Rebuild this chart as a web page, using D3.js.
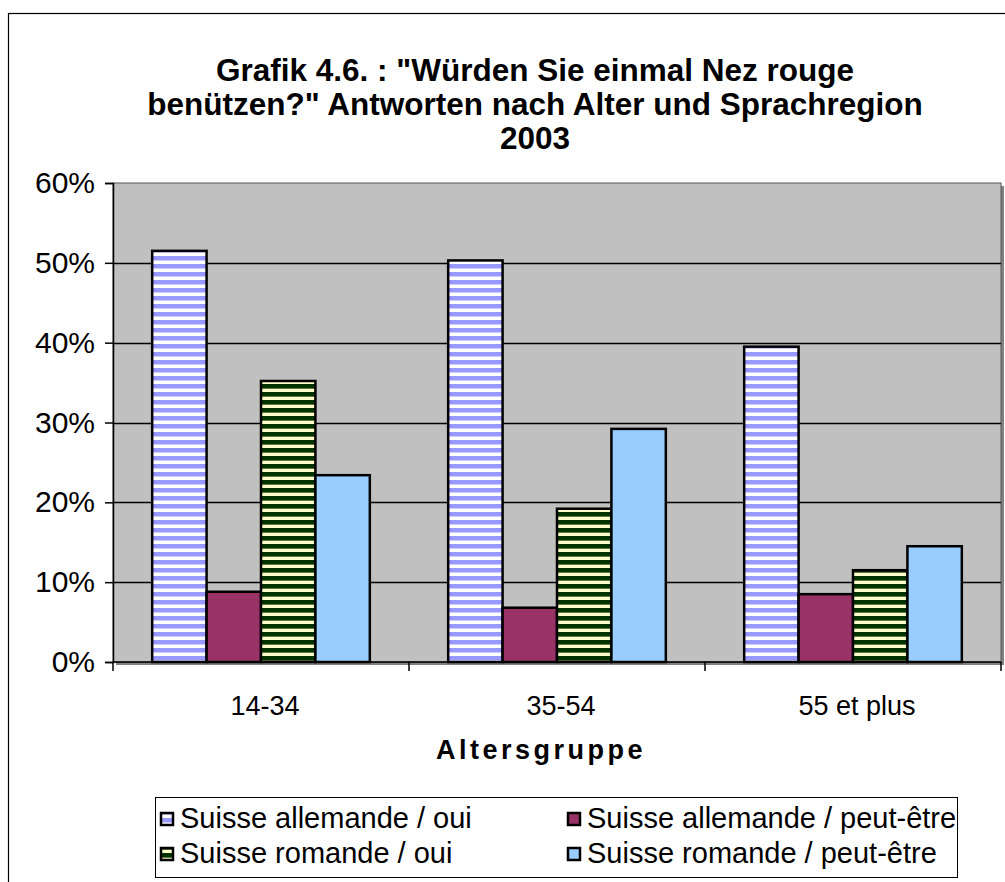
<!DOCTYPE html>
<html>
<head>
<meta charset="utf-8">
<script src="https://cdn.jsdelivr.net/npm/d3@7"></script>
<style>
  body { margin: 0; background: #fff; }
  svg { display: block; font-family: "Liberation Sans", Arial, sans-serif; }
</style>
</head>
<body>
<svg id="chart" width="1005" height="882"></svg>
<script>
var groupes = ["14-34", "35-54", "55 et plus"];
var series = ["Suisse allemande / oui", "Suisse allemande / peut-être", "Suisse romande / oui", "Suisse romande / peut-être"];
var allemandeOui = [51.5, 50.3, 39.5];
var allemandePeut = [8.8, 6.8, 8.5];
var romandeOui = [35.2, 19.2, 11.5];
var romandePeut = [23.4, 29.2, 14.5];
var yTicks = [0, 10, 20, 30, 40, 50, 60];
var titre = ["Grafik 4.6. : \"Würden Sie einmal Nez rouge", "benützen?\" Antworten nach Alter und Sprachregion", "2003"];

var valeurs = [allemandeOui, allemandePeut, romandeOui, romandePeut];
var remplis = ["url(#rayesBleu)", "#993366", "url(#rayesVert)", "#99ccff"];

var svg = d3.select("#chart");

// motifs a rayures
var defs = svg.append("defs");
var p1 = defs.append("pattern").attr("id", "rayesBleu")
    .attr("patternUnits", "userSpaceOnUse").attr("width", 8).attr("height", 8);
p1.append("rect").attr("width", 8).attr("height", 8).attr("fill", "#ffffff");
p1.append("rect").attr("y", 0).attr("width", 8).attr("height", 4).attr("fill", "#9999ff");
p1.append("rect").attr("y", 4).attr("width", 8).attr("height", 1).attr("fill", "#ccccff");
var p2 = defs.append("pattern").attr("id", "rayesVert")
    .attr("patternUnits", "userSpaceOnUse").attr("width", 8).attr("height", 8);
p2.append("rect").attr("width", 8).attr("height", 8).attr("fill", "#ffffcc");
p2.append("rect").attr("y", 0).attr("width", 8).attr("height", 4).attr("fill", "#003300");
p2.append("rect").attr("y", 4).attr("width", 8).attr("height", 1).attr("fill", "#667744");

// cadre exterieur
svg.append("rect")
    .attr("x", 8.5).attr("y", 13.5).attr("width", 1010).attr("height", 900)
    .attr("fill", "none").attr("stroke", "#000").attr("stroke-width", 1.2);

var gauche = 113, droite = 1001, haut = 183, bas = 662;

var x = d3.scaleBand().domain(groupes).range([gauche, droite]);
var xi = d3.scaleBand().domain(d3.range(4)).range([0, x.bandwidth()]).paddingOuter(0.72).paddingInner(0);
var y = d3.scaleLinear().domain([0, 60]).range([bas, haut]);

// zone de trace
svg.append("rect")
    .attr("x", gauche + 3).attr("y", haut + 3).attr("width", droite - gauche).attr("height", bas - haut)
    .attr("fill", "#808080");
svg.append("rect")
    .attr("x", gauche).attr("y", haut).attr("width", droite - gauche).attr("height", bas - haut)
    .attr("fill", "#c0c0c0").attr("stroke", "#555").attr("stroke-width", 1);

// quadrillage
svg.append("g")
    .selectAll("line")
    .data(yTicks.filter(function(d){ return d > 0 && d < 60; }))
    .enter().append("line")
    .attr("x1", gauche).attr("x2", droite)
    .attr("y1", function(d){ return Math.round(y(d)) + 0.5; })
    .attr("y2", function(d){ return Math.round(y(d)) + 0.5; })
    .attr("stroke", "#000").attr("stroke-width", 1.5);

// barres
valeurs.forEach(function(serie, s){
    svg.append("g")
        .selectAll("rect")
        .data(serie)
        .enter().append("rect")
        .attr("x", function(d, i){ return x(groupes[i]) + xi(s); })
        .attr("y", function(d){ return y(d); })
        .attr("width", xi.bandwidth())
        .attr("height", function(d){ return bas - y(d); })
        .attr("fill", remplis[s])
        .attr("stroke", "#000")
        .attr("stroke-width", 2.5);
});

// axe y
var axeY = svg.append("g").attr("transform", "translate(" + gauche + ",0)")
    .call(d3.axisLeft(y).tickValues(yTicks).tickSize(8).tickFormat(function(d){ return d + "%"; }));
axeY.select(".domain").attr("stroke", "#000").attr("stroke-width", 1.5);
axeY.selectAll(".tick line").attr("stroke", "#000").attr("stroke-width", 1.5);
axeY.selectAll(".tick text").attr("x", -18).attr("font-size", 30).attr("fill", "#000")
    .attr("font-family", "Liberation Sans, Arial, sans-serif");

// axe x
var axeX = svg.append("g").attr("transform", "translate(0," + bas + ")");
axeX.append("line").attr("x1", gauche).attr("x2", droite).attr("stroke", "#000").attr("stroke-width", 1.5);
axeX.selectAll("line.sep")
    .data(groupes.concat(["fin"]))
    .enter().append("line")
    .attr("class", "sep")
    .attr("x1", function(d, i){ return gauche + i * x.bandwidth(); })
    .attr("x2", function(d, i){ return gauche + i * x.bandwidth(); })
    .attr("y1", 0).attr("y2", 9)
    .attr("stroke", "#000").attr("stroke-width", 1.5);
axeX.selectAll("text")
    .data(groupes)
    .enter().append("text")
    .attr("x", function(d){ return x(d) + x.bandwidth() / 2 + 4; })
    .attr("y", 53)
    .attr("text-anchor", "middle")
    .attr("font-size", 27)
    .text(function(d){ return d; });

svg.append("text")
    .attr("x", 541).attr("y", 759)
    .attr("text-anchor", "middle")
    .attr("font-size", 27).attr("font-weight", "bold")
    .attr("letter-spacing", 3.5)
    .text("Altersgruppe");

// titre
svg.append("g").selectAll("text")
    .data(titre)
    .enter().append("text")
    .attr("x", 535)
    .attr("y", function(d, i){ return 81 + i * 34; })
    .attr("text-anchor", "middle")
    .attr("font-size", 31.5).attr("font-weight", "bold")
    .text(function(d){ return d; });

// legende
var leg = svg.append("g");
leg.append("rect")
    .attr("x", 155.5).attr("y", 797.5).attr("width", 802).attr("height", 80)
    .attr("fill", "#fff").attr("stroke", "#000").attr("stroke-width", 1);
var items = leg.selectAll("g.item")
    .data(series)
    .enter().append("g")
    .attr("class", "item")
    .attr("transform", function(d, i){
        return "translate(" + (i % 2 === 0 ? 161 : 568) + "," + (i < 2 ? 818 : 853) + ")";
    });
items.append("rect")
    .attr("x", 0).attr("y", -5).attr("width", 12).attr("height", 12)
    .attr("fill", function(d, i){ return remplis[i]; })
    .attr("stroke", "#000").attr("stroke-width", 2.5);
items.append("text")
    .attr("x", 19).attr("y", 10)
    .attr("font-size", 29)
    .text(function(d){ return d; });
</script>
</body>
</html>
